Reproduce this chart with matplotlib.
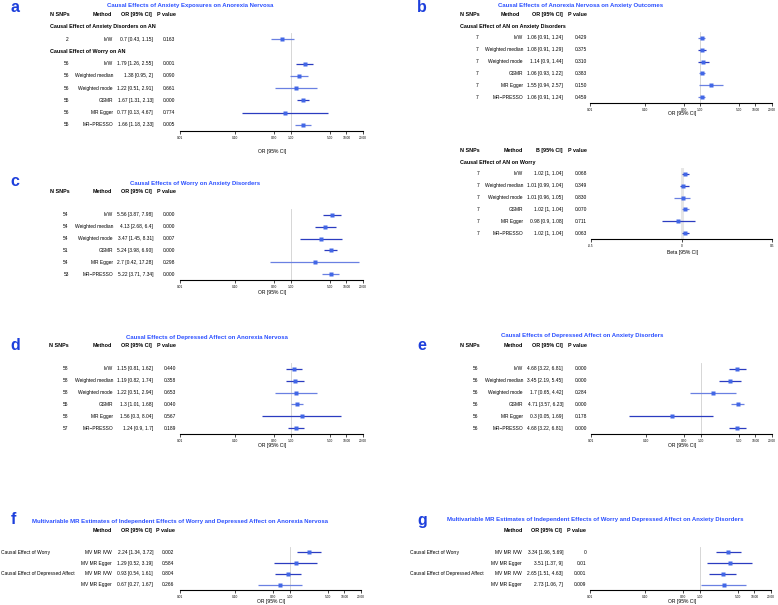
import re
import matplotlib
matplotlib.use('Agg')
import matplotlib.pyplot as plt
import matplotlib.transforms as mtransforms
import numpy as np

plt.rcParams['font.family'] = ['Liberation Sans', 'DejaVu Sans']

W, H = 778, 605

# ---------------- data ----------------
methods6 = ['IVW', 'Weighted median', 'Weighted mode', 'GSMR', 'MR Egger', 'MR\u2212PRESSO']

# a: anxiety exposures -> AN
a_n = ['2', '56', '56', '56', '55', '56', '55']
a_methods = ['IVW'] + methods6
a_ci = ['0.7 [0.43, 1.15]', '1.79 [1.26, 2.55]', '1.38 [0.95, 2]', '1.22 [0.51, 2.91]',
        '1.67 [1.31, 2.13]', '0.77 [0.13, 4.67]', '1.66 [1.18, 2.33]']
a_p = ['0.163', '0.001', '0.090', '0.661', '0.000', '0.774', '0.005']

# b: AN -> anxiety disorders
b_n = ['7'] * 6
b_ci = ['1.06 [0.91, 1.24]', '1.08 [0.91, 1.29]', '1.14 [0.9, 1.44]',
        '1.06 [0.93, 1.22]', '1.55 [0.94, 2.57]', '1.06 [0.91, 1.24]']
b_p = ['0.429', '0.375', '0.310', '0.383', '0.150', '0.459']

# b (lower): AN -> worry
bw_n = ['7'] * 6
bw_ci = ['1.02 [1, 1.04]', '1.01 [0.99, 1.04]', '1.01 [0.96, 1.05]',
         '1.02 [1, 1.04]', '0.98 [0.9, 1.08]', '1.02 [1, 1.04]']
bw_p = ['0.068', '0.349', '0.830', '0.070', '0.711', '0.063']

# c: worry -> anxiety disorders
c_n = ['54', '54', '54', '51', '54', '53']
c_ci = ['5.56 [3.87, 7.98]', '4.13 [2.68, 6.4]', '3.47 [1.45, 8.31]',
        '5.24 [3.98, 6.90]', '2.7 [0.42, 17.28]', '5.22 [3.71, 7.34]']
c_p = ['0.000', '0.000', '0.007', '0.000', '0.298', '0.000']

# d: depressed affect -> AN
d_n = ['58', '58', '58', '55', '58', '57']
d_ci = ['1.15 [0.81, 1.62]', '1.19 [0.82, 1.74]', '1.22 [0.51, 2.94]',
        '1.3 [1.01, 1.68]', '1.56 [0.3, 8.04]', '1.24 [0.9, 1.7]']
d_p = ['0.440', '0.358', '0.653', '0.040', '0.567', '0.189']

# e: depressed affect -> anxiety disorders
e_n = ['56'] * 6
e_ci = ['4.68 [3.22, 6.81]', '3.45 [2.19, 5.45]', '1.7 [0.65, 4.42]',
        '4.71 [3.57, 6.23]', '0.3 [0.05, 1.69]', '4.68 [3.22, 6.81]']
e_p = ['0.000', '0.000', '0.284', '0.000', '0.178', '0.000']

# f, g: multivariable MR
mv_groups = ['Causal Effect of Worry', '', 'Causal Effect of Depressed Affect', '']
mv_methods = ['MV MR IVW', 'MV MR Egger', 'MV MR IVW', 'MV MR Egger']
f_ci = ['2.24 [1.34, 3.72]', '1.29 [0.52, 3.19]', '0.93 [0.54, 1.61]', '0.67 [0.27, 1.67]']
f_p = ['0.002', '0.584', '0.804', '0.266']
g_ci = ['3.34 [1.96, 5.69]', '3.51 [1.37, 9]', '2.65 [1.51, 4.63]', '2.73 [1.06, 7]']
g_p = ['0', '0.01', '0.001', '0.009']

or_ticks = [0.01, 0.1, 0.5, 1, 5, 10, 20]
or_ticklabels = ['0.01', '0.10', '0.50', '1.00', '5.00', '10.00', '20.00']

# ---------------- style ----------------
DARK = '#2b3cc0'
LIGHT = '#6a80e2'
BOX = '#4267e6'
TITLE_C = '#2a4fff'
LETTER_C = '#1d3fdc'
FS = 3.5
FSB = 3.9

fig = plt.figure(figsize=(W / 100, H / 100), dpi=100)


def fx(x):
    return x / W


def fy(y):
    return 1 - y / H


def px_axes(x0, x1, y0, y1):
    return fig.add_axes([fx(x0), fy(y1), (x1 - x0) / W, (y1 - y0) / H])


def parse(ci):
    v = np.array([[float(s) for s in re.findall(r'\d+\.?\d*', t)] for t in ci])
    return v[:, 0], v[:, 1], v[:, 2]


def forest(ax, ypos, ci, dark, log=True):
    est, lo, hi = parse(ci)
    if log:
        ref = 1
    else:
        est, lo, hi = np.log(est), np.log(lo), np.log(hi)
        ref = 0
    ax.axvline(ref, color='#d0d0d0' if log else '#e6e6e6', lw=0.6 if log else 2.2, zorder=0)
    for y, e, l, h, d in zip(ypos, est, lo, hi, dark):
        ax.plot([l, h], [y, y], color=DARK if d else LIGHT, lw=0.9, solid_capstyle='butt')
        ax.plot(e, y, 's', color=BOX, ms=2.6, mec='none')
    ax.set_ylim(max(ypos) + 0.5, -0.5)
    if log:
        ax.set_xscale('log')
        ax.set_xlim(0.01, 20)
        ax.set_xticks(or_ticks)
        ax.set_xticklabels(or_ticklabels)
        ax.minorticks_off()
    else:
        ax.set_xlim(-0.5, 0.5)
        ax.set_xticks([-0.5, 0, 0.5])
        ax.set_xticklabels(['-0.5', '0', '0.5'])
    ax.set_yticks([])
    for s in ['top', 'left', 'right']:
        ax.spines[s].set_visible(False)
    ax.spines['bottom'].set_linewidth(0.8)
    ax.tick_params(axis='x', labelsize=2.3, length=2, width=0.5, pad=1.5)
    ax.patch.set_alpha(0)


def col(ax, x, ypos, texts, ha='left', bold=False):
    tr = mtransforms.blended_transform_factory(fig.transFigure, ax.transData)
    for y, t in zip(ypos, texts):
        ax.text(fx(x), y, t, transform=tr, ha=ha, va='center',
                fontsize=FSB if bold else FS,
                fontweight='bold' if bold else 'normal', clip_on=False)


def ftext(x, y, s, **kw):
    fig.text(fx(x), fy(y), s, va='center', **kw)


def title(x, y, s):
    ftext(x, y, s, ha='center', fontsize=4.3, fontweight='bold', color=TITLE_C)


def letter(x, y, s):
    ftext(x, y, s, ha='center', fontsize=11.5, fontweight='bold', color=LETTER_C)


def xlabel(x, y, s):
    ftext(x, y, s, ha='center', fontsize=3.6)


rows6 = list(range(6))

# ---------- panel a ----------
ax = px_axes(180, 363, 33, 131)
a_rows = [0, 2, 3, 4, 5, 6, 7]
forest(ax, a_rows, a_ci, [0, 1, 0, 0, 1, 1, 0])
col(ax, 67, a_rows, a_n, ha='center')
col(ax, 113, a_rows, a_methods, ha='right')
col(ax, 153, a_rows, a_ci, ha='right')
col(ax, 175, a_rows, a_p, ha='right')
col(ax, 50, [-2], ['N SNPs'], bold=True)
col(ax, 112, [-2], ['Method'], ha='right', bold=True)
col(ax, 152, [-2], ['OR [95% CI]'], ha='right', bold=True)
col(ax, 176, [-2], ['P value'], ha='right', bold=True)
col(ax, 50, [-1, 1], ['Causal Effect of Anxiety Disorders on AN', 'Causal Effect of Worry on AN'], bold=True)
title(190, 6, 'Causal Effects of Anxiety Exposures on Anorexia Nervosa')
letter(15, 8, 'a')
xlabel(272, 151, 'OR [95% CI]')

# ---------- panel b ----------
ax = px_axes(590, 772, 32, 103)
forest(ax, rows6, b_ci, [0, 1, 1, 0, 0, 0])
col(ax, 477, rows6, b_n, ha='center')
col(ax, 523, rows6, methods6, ha='right')
col(ax, 563, rows6, b_ci, ha='right')
col(ax, 587, rows6, b_p, ha='right')
col(ax, 460, [-2], ['N SNPs'], bold=True)
col(ax, 520, [-2], ['Method'], ha='right', bold=True)
col(ax, 563, [-2], ['OR [95% CI]'], ha='right', bold=True)
col(ax, 587, [-2], ['P value'], ha='right', bold=True)
col(ax, 460, [-1], ['Causal Effect of AN on Anxiety Disorders'], bold=True)
title(581, 6, 'Causal Effects of Anorexia Nervosa on Anxiety Outcomes')
letter(422, 8, 'b')
xlabel(682, 114, 'OR [95% CI]')

ax = px_axes(591, 772, 168, 239)
forest(ax, rows6, bw_ci, [1, 1, 0, 0, 1, 1], log=False)
col(ax, 478, rows6, bw_n, ha='center')
col(ax, 523, rows6, methods6, ha='right')
col(ax, 563, rows6, bw_ci, ha='right')
col(ax, 587, rows6, bw_p, ha='right')
col(ax, 460, [-2], ['N SNPs'], bold=True)
col(ax, 523, [-2], ['Method'], ha='right', bold=True)
col(ax, 563, [-2], ['B [95% CI]'], ha='right', bold=True)
col(ax, 587, [-2], ['P value'], ha='right', bold=True)
col(ax, 460, [-1], ['Causal Effect of AN on Worry'], bold=True)
xlabel(683, 252, 'Beta [95% CI]')

# ---------- panel c ----------
ax = px_axes(180, 363, 209, 280)
forest(ax, rows6, c_ci, [1, 1, 1, 1, 0, 0])
col(ax, 66, rows6, c_n, ha='center')
col(ax, 113, rows6, methods6, ha='right')
col(ax, 153, rows6, c_ci, ha='right')
col(ax, 175, rows6, c_p, ha='right')
col(ax, 50, [-2], ['N SNPs'], bold=True)
col(ax, 112, [-2], ['Method'], ha='right', bold=True)
col(ax, 152, [-2], ['OR [95% CI]'], ha='right', bold=True)
col(ax, 176, [-2], ['P value'], ha='right', bold=True)
title(195, 183, 'Causal Effects of Worry on Anxiety Disorders')
letter(15, 182, 'c')
xlabel(272, 292, 'OR [95% CI]')

# ---------- panel d ----------
ax = px_axes(180, 363, 363, 434)
forest(ax, rows6, d_ci, [1, 1, 0, 0, 1, 1])
col(ax, 66, rows6, d_n, ha='center')
col(ax, 113, rows6, methods6, ha='right')
col(ax, 153, rows6, d_ci, ha='right')
col(ax, 176, rows6, d_p, ha='right')
col(ax, 49, [-2], ['N SNPs'], bold=True)
col(ax, 112, [-2], ['Method'], ha='right', bold=True)
col(ax, 152, [-2], ['OR [95% CI]'], ha='right', bold=True)
col(ax, 176, [-2], ['P value'], ha='right', bold=True)
title(207, 337, 'Causal Effects of Depressed Affect on Anorexia Nervosa')
letter(15, 345, 'd')
xlabel(272, 446, 'OR [95% CI]')

# ---------- panel e ----------
ax = px_axes(591, 772, 363, 434)
forest(ax, rows6, e_ci, [1, 1, 0, 0, 1, 1])
col(ax, 476, rows6, e_n, ha='center')
col(ax, 523, rows6, methods6, ha='right')
col(ax, 563, rows6, e_ci, ha='right')
col(ax, 587, rows6, e_p, ha='right')
col(ax, 460, [-2], ['N SNPs'], bold=True)
col(ax, 523, [-2], ['Method'], ha='right', bold=True)
col(ax, 563, [-2], ['OR [95% CI]'], ha='right', bold=True)
col(ax, 587, [-2], ['P value'], ha='right', bold=True)
title(582, 336, 'Causal Effects of Depressed Affect on Anxiety Disorders')
letter(422, 345, 'e')
xlabel(682, 446, 'OR [95% CI]')

# ---------- panel f ----------
rows4 = list(range(4))
ax = px_axes(180, 361, 547, 590)
forest(ax, rows4, f_ci, [1, 1, 1, 0])
col(ax, 1, rows4, mv_groups)
col(ax, 112, rows4, mv_methods, ha='right')
col(ax, 153, rows4, f_ci, ha='right')
col(ax, 174, rows4, f_p, ha='right')
col(ax, 112, [-2], ['Method'], ha='right', bold=True)
col(ax, 152, [-2], ['OR [95% CI]'], ha='right', bold=True)
col(ax, 175, [-2], ['P value'], ha='right', bold=True)
title(180, 521, 'Multivariable MR Estimates of Independent Effects of Worry and Depressed Affect on Anorexia Nervosa')
letter(13, 519, 'f')
xlabel(271, 601, 'OR [95% CI]')

# ---------- panel g ----------
ax = px_axes(590, 771, 547, 590)
forest(ax, rows4, g_ci, [1, 1, 1, 0])
col(ax, 410, rows4, mv_groups)
col(ax, 522, rows4, mv_methods, ha='right')
col(ax, 563, rows4, g_ci, ha='right')
col(ax, 586, rows4, g_p, ha='right')
col(ax, 523, [-2], ['Method'], ha='right', bold=True)
col(ax, 562, [-2], ['OR [95% CI]'], ha='right', bold=True)
col(ax, 586, [-2], ['P value'], ha='right', bold=True)
title(595, 520, 'Multivariable MR Estimates of Independent Effects of Worry and Depressed Affect on Anxiety Disorders')
letter(422, 521, 'g')
xlabel(682, 601, 'OR [95% CI]')

fig.savefig('out.png', dpi=100)
